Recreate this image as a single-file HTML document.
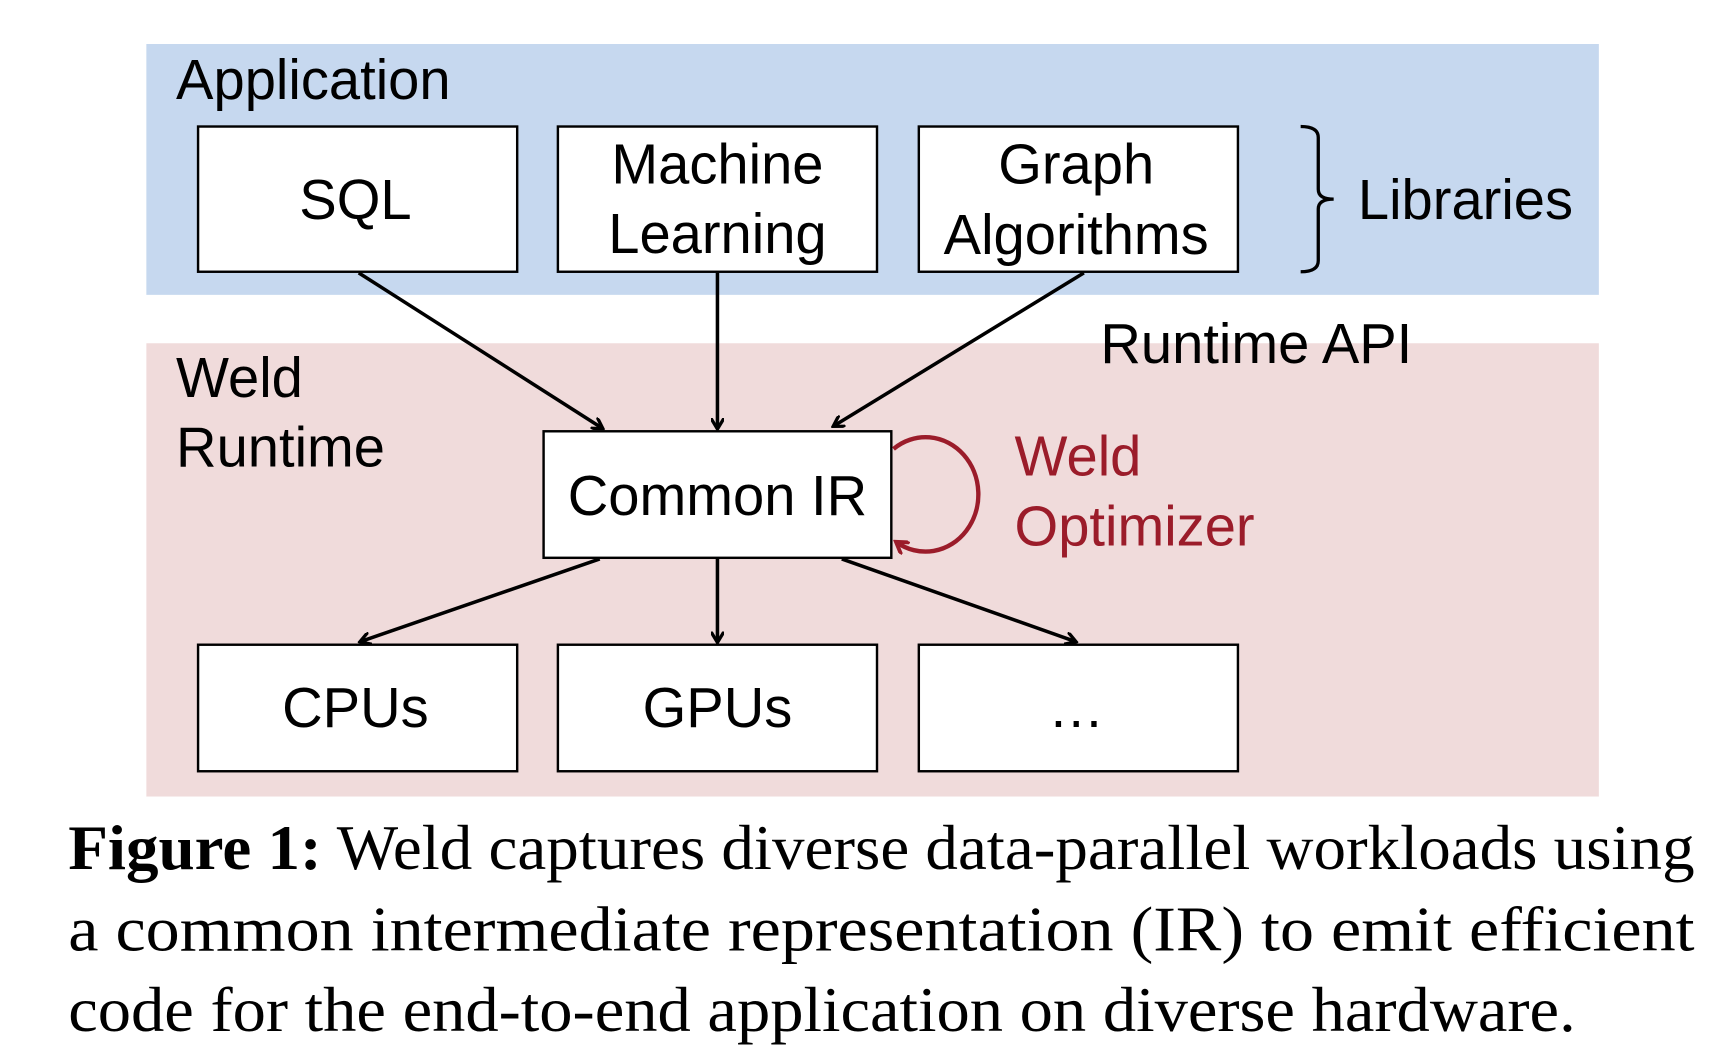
<!DOCTYPE html>
<html><head><meta charset="utf-8"><style>
html,body{margin:0;padding:0;background:#fff;}
svg{display:block;}
text{font-family:"Liberation Sans",Arial,sans-serif;}
.c{font-family:"Liberation Serif","Times New Roman",serif;font-size:58px;}
</style></head><body>
<svg width="1710" height="1054" viewBox="0 0 1554 958" preserveAspectRatio="none">
<defs>
<marker id="a" markerWidth="12" markerHeight="12" refX="9" refY="6" orient="auto" markerUnits="userSpaceOnUse">
<path d="M0,0 L10,6 L0,12" fill="none" stroke="#000" stroke-width="3"/>
</marker>
<marker id="r" markerWidth="14" markerHeight="14" refX="10" refY="7" orient="auto" markerUnits="userSpaceOnUse">
<path d="M0,0 L11,7 L0,14" fill="none" stroke="#9b1c2a" stroke-width="3.5"/>
</marker>
</defs>
<rect x="133" y="40" width="1320" height="228" fill="#c6d8ef"/>
<rect x="133" y="312" width="1320" height="412" fill="#f0dbdb"/>
<g fill="#fff" stroke="#000" stroke-width="2.2">
<rect x="180" y="115" width="290" height="132"/>
<rect x="507" y="115" width="290" height="132"/>
<rect x="835" y="115" width="290" height="132"/>
<rect x="494" y="392" width="316" height="115"/>
<rect x="180" y="586" width="290" height="115"/>
<rect x="507" y="586" width="290" height="115"/>
<rect x="835" y="586" width="290" height="115"/>
</g>
<g stroke="#000" stroke-width="3.2" fill="none" marker-end="url(#a)">
<line x1="326" y1="248" x2="547" y2="389"/>
<line x1="652" y1="248" x2="652" y2="389"/>
<line x1="985" y1="248" x2="758" y2="387"/>
<line x1="545" y1="508" x2="328" y2="583"/>
<line x1="652" y1="508" x2="652" y2="583"/>
<line x1="765" y1="508" x2="977" y2="583"/>
</g>
<path d="M1182,115 Q1198,115 1198,125 L1198,172 Q1198,181 1212,181 Q1198,181 1198,190 L1198,237 Q1198,247 1182,247" fill="none" stroke="#000" stroke-width="3"/>
<path d="M812,408 A48,52 0 1 1 815,493" fill="none" stroke="#9b1c2a" stroke-width="4" marker-end="url(#r)"/>
<g font-size="51" fill="#000">
<text x="160" y="90">Application</text>
<text x="323" y="199" text-anchor="middle">SQL</text>
<text x="652" y="167" text-anchor="middle">Machine</text>
<text x="652" y="230" text-anchor="middle">Learning</text>
<text x="978" y="167" text-anchor="middle">Graph</text>
<text x="978" y="231" text-anchor="middle">Algorithms</text>
<text x="1234" y="199">Libraries</text>
<text x="1000" y="330">Runtime API</text>
<text x="160" y="361">Weld</text>
<text x="160" y="424">Runtime</text>
<text x="652" y="468" text-anchor="middle">Common IR</text>
<text x="323" y="661" text-anchor="middle">CPUs</text>
<text x="652" y="661" text-anchor="middle">GPUs</text>
<text x="978" y="661" text-anchor="middle">…</text>
<text x="922" y="432" fill="#9b1c2a">Weld</text>
<text x="922" y="496" fill="#9b1c2a">Optimizer</text>
</g>
<text class="c" x="62" y="790" textLength="1478" lengthAdjust="spacingAndGlyphs"><tspan font-weight="bold">Figure 1:</tspan> Weld captures diverse data-parallel workloads using</text>
<text class="c" x="62" y="864" textLength="1478" lengthAdjust="spacingAndGlyphs">a common intermediate representation (IR) to emit efficient</text>
<text class="c" x="62" y="937" textLength="1370" lengthAdjust="spacingAndGlyphs">code for the end-to-end application on diverse hardware.</text>
</svg>
</body></html>
